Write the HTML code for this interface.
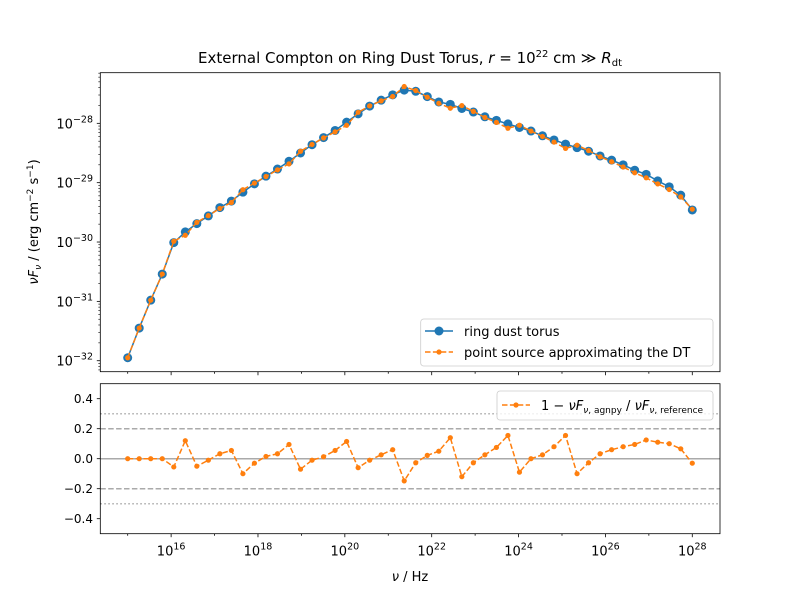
<!DOCTYPE html>
<html><head><meta charset="utf-8">
<style>
body{margin:0;background:#fff;}
svg{display:block;font-family:"DejaVu Sans","Liberation Sans",sans-serif;}
</style></head>
<body>
<svg id="chart" width="800" height="600" viewBox="0 0 800 600"></svg>
<script>
// ---- data ----
const logNuStart = 15, logNuEnd = 28, nPoints = 50;
const refLogFlux = [-31.95,-31.45,-30.98,-30.54,-30.01,-29.83,-29.69,-29.56,-29.42,-29.31,
  -29.16,-29.02,-28.89,-28.77,-28.64,-28.50,-28.36,-28.24,-28.12,-27.98,
  -27.84,-27.71,-27.61,-27.52,-27.44,-27.46,-27.55,-27.64,-27.68,-27.75,
  -27.81,-27.89,-27.95,-28.01,-28.07,-28.13,-28.21,-28.28,-28.35,-28.41,
  -28.47,-28.55,-28.62,-28.70,-28.79,-28.86,-28.97,-29.07,-29.21,-29.46];
const relDiff = [0,0,0,0,-0.055,0.12,-0.05,-0.01,0.033,0.055,
  -0.10,-0.03,0.015,0.033,0.095,-0.07,-0.01,0.013,0.055,0.115,
  -0.06,-0.01,0.026,0.06,-0.148,-0.027,0.022,0.05,0.14,-0.12,
  -0.027,0.026,0.075,0.155,-0.09,0.0,0.026,0.08,0.155,-0.10,
  -0.027,0.033,0.06,0.08,0.095,0.125,0.11,0.1,0.066,-0.03];
const xTickExps = [16,18,20,22,24,26,28];
const yTickExps = [-32,-31,-30,-29,-28];
const resTicks = [-0.4,-0.2,0.0,0.2,0.4];

// ---- layout ----
const NS="http://www.w3.org/2000/svg";
const svg=document.getElementById('chart');
const L=100.3,R=720;
const T1=72.7,B1=371.7, T2=383.7,B2=533.7;
const xLo=22-331.4/43.43, xHi=22+288.3/43.43;
const yLo=-32.185, yHi=-27.147;
const rLo=-0.5, rHi=0.5;
const sx=v=>L+(v-xLo)/(xHi-xLo)*(R-L);
const sy=v=>B1-(v-yLo)/(yHi-yLo)*(B1-T1);
const sr=v=>B2-(v-rLo)/(rHi-rLo)*(B2-T2);
function mk(tag,attrs,parent){const e=document.createElementNS(NS,tag);for(const k in attrs)e.setAttribute(k,attrs[k]);(parent||svg).appendChild(e);return e;}
const C1='#1f77b4',C2='#ff7f0e';
const logNu=[];for(let i=0;i<nPoints;i++)logNu.push(logNuStart+(logNuEnd-logNuStart)*i/(nPoints-1));
const agnLogFlux=refLogFlux.map((v,i)=>v+Math.log10(1-relDiff[i]));

// title
let t=mk('text',{x:410,y:63,'text-anchor':'middle','font-size':15});

t.innerHTML='External Compton on Ring Dust Torus, <tspan font-style="italic">r</tspan> = 10<tspan dy="-6" font-size="10">22</tspan><tspan dy="6"> cm ≫ </tspan><tspan font-style="italic">R</tspan><tspan dy="3" font-size="10">dt</tspan>';

// top panel clip
const defs=mk('defs',{});
const cp=mk('clipPath',{id:'c1'},defs);mk('rect',{x:L,y:T1,width:R-L,height:B1-T1},cp);
const cp2=mk('clipPath',{id:'c2'},defs);mk('rect',{x:L,y:T2,width:R-L,height:B2-T2},cp2);

// y ticks top
const g1=mk('g',{});
for(let d=-33;d<=-27;d++){for(let m=1;m<10;m++){const v=d+Math.log10(m);if(v<yLo||v>yHi)continue;const y=sy(v);
 mk('line',{x1:L,x2:L-(m===1?3.5:2),y1:y,y2:y,stroke:'#000','stroke-width':m===1?0.8:0.6},g1);}}
yTickExps.forEach(e=>{const tx=mk('text',{x:93,y:sy(e)+5,'text-anchor':'end','font-size':13},g1);
 
 tx.innerHTML='10<tspan dy="-6" font-size="9.5">−'+Math.abs(e)+'</tspan>';});
let yl=mk('text',{transform:'translate(38,222) rotate(-90)','text-anchor':'middle','font-size':13});

yl.innerHTML='<tspan font-style="italic">νF</tspan><tspan font-style="italic" font-size="9" dy="3">ν</tspan><tspan dy="-3"> / (erg cm</tspan><tspan font-size="9" dy="-5">−2</tspan><tspan dy="5"> s</tspan><tspan font-size="9" dy="-5">−1</tspan><tspan dy="5">)</tspan>';

// x ticks on both panels
[[B1,false],[B2,true]].forEach(([b,lab])=>{
 for(let d=15;d<=28;d++){const x=sx(d);const maj=d%2===0;
  mk('line',{x1:x,x2:x,y1:b,y2:b+(maj?3.5:2),stroke:'#000','stroke-width':0.8});
  if(lab&&maj){const tx=mk('text',{x:x,y:b+22,'text-anchor':'middle','font-size':13});
   
   tx.innerHTML='10<tspan dy="-6" font-size="9.5">'+d+'</tspan>';}}
});
let xl=mk('text',{x:410,y:581,'text-anchor':'middle','font-size':13});

xl.innerHTML='<tspan font-style="italic">ν</tspan> / Hz';

// top series
const gs=mk('g',{'clip-path':'url(#c1)'});
const refLine=mk('polyline',{points:logNu.map((v,i)=>sx(v)+','+sy(refLogFlux[i])).join(' '),fill:'none',stroke:C1,'stroke-width':1.5},gs);

logNu.forEach((v,i)=>{const c=mk('circle',{cx:sx(v),cy:sy(refLogFlux[i]),r:4.5,fill:C1},gs);
 });
const agnLine=mk('polyline',{points:logNu.map((v,i)=>sx(v)+','+sy(agnLogFlux[i])).join(' '),fill:'none',stroke:C2,'stroke-width':1.5,'stroke-dasharray':'5.5,2.4'},gs);

logNu.forEach((v,i)=>{const c=mk('circle',{cx:sx(v),cy:sy(agnLogFlux[i]),r:2.6,fill:C2},gs);
 });

// top frame
let f1=mk('rect',{x:L,y:T1,width:R-L,height:B1-T1,fill:'none',stroke:'#000','stroke-width':0.8});


// top legend
const lg=mk('g',{});
mk('rect',{x:420.7,y:319,width:292.3,height:47,rx:3,fill:'#fff','fill-opacity':0.8,stroke:'#ccc','stroke-width':0.8},lg);
mk('line',{x1:425,x2:453,y1:331,y2:331,stroke:C1,'stroke-width':1.5},lg);
mk('circle',{cx:439,cy:331,r:4.5,fill:C1},lg);
let le1=mk('text',{x:464,y:336,'font-size':13},lg);le1.textContent='ring dust torus';

mk('line',{x1:425,x2:453,y1:352,y2:352,stroke:C2,'stroke-width':1.5,'stroke-dasharray':'5.5,2.4'},lg);
mk('circle',{cx:439,cy:352,r:2.6,fill:C2},lg);
let le2=mk('text',{x:464,y:357,'font-size':13},lg);le2.textContent='point source approximating the DT';


// bottom panel reference lines
const gr=mk('g',{'clip-path':'url(#c2)'});
mk('line',{x1:L,x2:R,y1:sr(0),y2:sr(0),stroke:'#aaa','stroke-width':1.5},gr);
[0.2,-0.2].forEach(v=>mk('line',{x1:L,x2:R,y1:sr(v),y2:sr(v),stroke:'#aaa','stroke-width':1.5,'stroke-dasharray':'5.5,2.4'},gr));
[0.3,-0.3].forEach(v=>mk('line',{x1:L,x2:R,y1:sr(v),y2:sr(v),stroke:'#aaa','stroke-width':1.5,'stroke-dasharray':'1.5,2.5'},gr));
const resLine=mk('polyline',{points:logNu.map((v,i)=>sx(v)+','+sr(relDiff[i])).join(' '),fill:'none',stroke:C2,'stroke-width':1.5,'stroke-dasharray':'5.5,2.4'},gr);

logNu.forEach((v,i)=>{const c=mk('circle',{cx:sx(v),cy:sr(relDiff[i]),r:2.6,fill:C2},gr);
 });

// bottom y ticks
resTicks.forEach(v=>{const y=sr(v);mk('line',{x1:L,x2:L-3.5,y1:y,y2:y,stroke:'#000','stroke-width':0.8});
 const tx=mk('text',{x:93,y:y+4.5,'text-anchor':'end','font-size':12});
 
 tx.textContent=(v<0?'−':'')+Math.abs(v).toFixed(1);});
let f2=mk('rect',{x:L,y:T2,width:R-L,height:B2-T2,fill:'none',stroke:'#000','stroke-width':0.8});


// bottom legend
const lg2=mk('g',{});
mk('rect',{x:497,y:391,width:216,height:29,rx:3,fill:'#fff','fill-opacity':0.8,stroke:'#ccc','stroke-width':0.8},lg2);
mk('line',{x1:502,x2:530,y1:405,y2:405,stroke:C2,'stroke-width':1.5,'stroke-dasharray':'5.5,2.4'},lg2);
mk('circle',{cx:516,cy:405,r:2.6,fill:C2},lg2);
let le3=mk('text',{x:541,y:410,'font-size':13},lg2);

le3.innerHTML='1 − <tspan font-style="italic">νF</tspan><tspan font-size="9" dy="3"><tspan font-style="italic">ν</tspan>, agnpy</tspan><tspan dy="-3"> / </tspan><tspan font-style="italic">νF</tspan><tspan font-size="9" dy="3"><tspan font-style="italic">ν</tspan>, reference</tspan>';
</script>
</body></html>
